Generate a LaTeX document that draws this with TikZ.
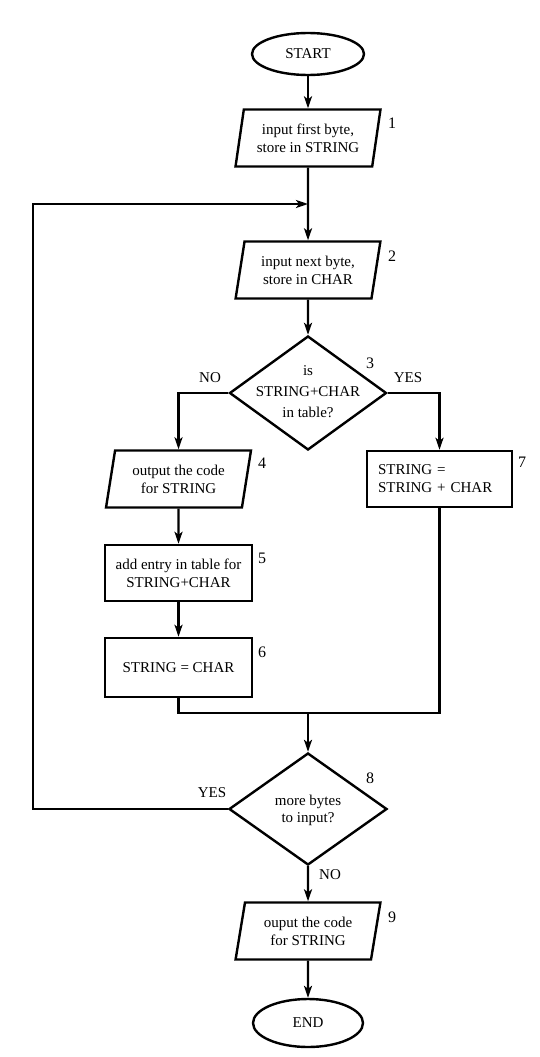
\documentclass[tikz,border=0pt]{standalone}
\usepackage{fontspec}
\setmainfont{Liberation Serif}
\usetikzlibrary{shapes.geometric,arrows.meta}
\begin{document}
\begin{tikzpicture}[x=1pt,y=-1pt,
  every node/.style={font=\fontsize{15}{18}\selectfont},
  flow/.style={line width=2.4pt},
  arr/.style={flow,-{Stealth[length=12pt,width=8pt,inset=3pt]}},
  term/.style={ellipse,draw,line width=2.4pt,minimum width=112pt,minimum height=42pt,inner sep=0pt},
  io/.style={trapezium,draw,line width=2.4pt,trapezium left angle=77,trapezium right angle=103,trapezium stretches=true,minimum width=145pt,minimum height=57pt,inner sep=0pt,align=center},
  proc/.style={rectangle,draw,line width=2.4pt,minimum height=56pt,align=center,inner sep=0pt},
  dec/.style={diamond,draw,line width=2.4pt,inner sep=0pt},
  num/.style={font=\fontsize{16}{18}\selectfont}
]
\fill[white] (0,0) rectangle (539,1057);
\useasboundingbox (0,0) rectangle (539,1057);

\node[term] (start) at (308,54) {START};
\node[io] (b1) at (308,138) {input first byte,\\store in STRING};
\coordinate (join) at (308,204);
\coordinate (loop) at (33,204);
\node[io] (b2) at (308,270) {input next byte,\\store in CHAR};
\node[dec, minimum width=157pt, minimum height=114pt] (d1) at (308,393) {};
\node[align=center, font=\fontsize{15}{21}\selectfont] (d1t) at (308,392) {is\\STRING+CHAR\\in table?};
\node[io] (b4) at (178.5,479) {output the code\\for STRING};
\node[proc, minimum width=145pt, text width=123pt, align=left] (b7) at (439.5,479) {STRING =\\STRING + CHAR};
\node[proc, minimum width=147pt] (b5) at (178.5,573) {add entry in table for\\STRING+CHAR};
\node[proc, minimum width=147pt, minimum height=59pt] (b6) at (178.5,667.5) {STRING = CHAR};
\coordinate (m) at (308,713);
\node[dec, minimum width=158pt, minimum height=112pt] (d2) at (308,809) {};
\node[align=center, font=\fontsize{15}{17}\selectfont] (d2t) at (308,810) {more bytes\\to input?};
\node[io] (b9) at (308,931) {ouput the code\\for STRING};
\node[term, minimum width=110pt, minimum height=48pt] (end) at (308,1023) {END};

\draw[arr] (start) -- (b1);
\draw[arr] (b1.south) -- (b2.north);
\draw[arr] (d2.west) -| (loop) -- (join);
\draw[arr] (b2.south) -- (d1.north);
\draw[arr] (d1.west) -| (b4.north);
\draw[arr] (d1.east) -| (b7.north);
\draw[arr] (b4.south) -- (b5.north);
\draw[arr] (b5.south) -- (b6.north);
\draw[flow] (b6.south) |- (m);
\draw[flow] (b7.south) |- (m);
\draw[arr] (m) -- (d2.north);
\draw[arr] (d2.south) -- (b9.north);
\draw[arr] (b9.south) -- (end.north);

\node (no1) at (210,378) {NO};
\node (yes1) at (408,378) {YES};
\node (yes2) at (212,793) {YES};
\node (no2) at (330,875) {NO};

\node[num] (n1) at (392,123) {1};
\node[num] (n2) at (392,256) {2};
\node[num] (n3) at (370,363) {3};
\node[num] (n4) at (262,463) {4};
\node[num] (n5) at (262,558) {5};
\node[num] (n6) at (262,652) {6};
\node[num] (n7) at (522,462) {7};
\node[num] (n8) at (370,778) {8};
\node[num] (n9) at (392,917) {9};
\end{tikzpicture}
\end{document}
